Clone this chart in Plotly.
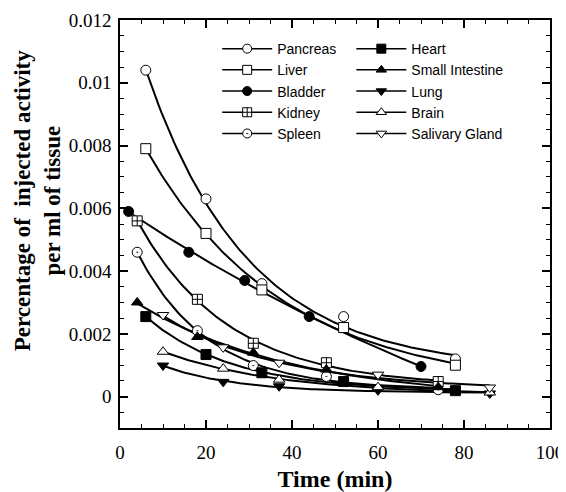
import numpy as np
import plotly.graph_objects as go

# ---- data ----
series_names = ["Pancreas", "Liver", "Bladder", "Kidney", "Spleen",
                "Heart", "Small Intestine", "Lung", "Brain", "Salivary Gland"]

pancreas_x = [6, 20, 33, 52, 78]
pancreas_y = [0.0104, 0.0063, 0.0036, 0.00255, 0.0012]
liver_x = [6, 20, 33, 52, 78]
liver_y = [0.0079, 0.0052, 0.0034, 0.0022, 0.0010]
bladder_x = [2, 16, 29, 44, 70]
bladder_y = [0.0059, 0.0046, 0.0037, 0.00255, 0.00096]
kidney_x = [4, 18, 31, 48, 74]
kidney_y = [0.0056, 0.0031, 0.0017, 0.00108, 0.00048]
spleen_x = [4, 18, 31, 48, 74]
spleen_y = [0.0046, 0.0021, 0.00099, 0.00064, 0.00022]
heart_x = [6, 20, 33, 52, 78]
heart_y = [0.00255, 0.00134, 0.00076, 0.00048, 0.00019]
small_int_x = [4, 18, 31, 48, 74]
small_int_y = [0.0030, 0.0019, 0.0014, 0.00086, 0.0003]
lung_x = [10, 24, 37, 60, 86]
lung_y = [0.00099, 0.00047, 0.00033, 0.0002, 0.0001]
brain_x = [10, 24, 37, 60, 86]
brain_y = [0.00143, 0.00089, 0.00054, 0.0003, 0.00013]
salivary_x = [10, 24, 37, 60, 86]
salivary_y = [0.0026, 0.00157, 0.00108, 0.0007, 0.00029]

xs = [pancreas_x, liver_x, bladder_x, kidney_x, spleen_x,
      heart_x, small_int_x, lung_x, brain_x, salivary_x]
ys = [pancreas_y, liver_y, bladder_y, kidney_y, spleen_y,
      heart_y, small_int_y, lung_y, brain_y, salivary_y]

ytick_vals = [0, 0.002, 0.004, 0.006, 0.008, 0.01, 0.012]
ytick_text = ["0", "0.002", "0.004", "0.006", "0.008", "0.01", "0.012"]
xtick_vals = [0, 20, 40, 60, 80, 100]

# ---- styles ----
symbols = ["circle", "square", "circle", "square-cross", "circle-dot",
           "square", "triangle-up", "triangle-down", "triangle-up", "triangle-down"]
fills = ["white", "white", "black", "white", "white",
         "black", "black", "black", "white", "white"]
sizes = [10, 10, 10, 10, 10, 10, 10, 10, 10, 10]


def exp_fit(x, y):
    x = np.asarray(x, float)
    y = np.asarray(y, float)
    best = None
    for b in np.linspace(0.005, 0.2, 800):
        A = np.column_stack([np.exp(-b * x), np.ones_like(x)])
        coef, *_ = np.linalg.lstsq(A, y, rcond=None)
        sse = float(np.sum((A @ coef - y) ** 2))
        if best is None or sse < best[0]:
            best = (sse, b, coef)
    _, b, (a, c) = best
    xf = np.linspace(x.min(), x.max(), 120)
    return xf, a * np.exp(-b * xf) + c


fig = go.Figure()

# fitted curves
for x, y in zip(xs, ys):
    xf, yf = exp_fit(x, y)
    fig.add_trace(go.Scatter(x=xf, y=yf, mode="lines",
                             line=dict(color="black", width=2),
                             showlegend=False, hoverinfo="skip"))

# data markers
for name, x, y, s, f, sz in zip(series_names, xs, ys, symbols, fills, sizes):
    fig.add_trace(go.Scatter(x=x, y=y, mode="markers", name=name,
                             marker=dict(symbol=s, color=f, size=sz,
                                         line=dict(color="black", width=1)),
                             showlegend=False))

# legend entries (two columns)
for i, (name, s, f, sz) in enumerate(zip(series_names, symbols, fills, sizes)):
    fig.add_trace(go.Scatter(x=[None], y=[None], mode="lines+markers", name=name,
                             line=dict(color="black", width=1.5),
                             marker=dict(symbol=s, color=f, size=sz - 1,
                                         line=dict(color="black", width=1)),
                             legend="legend" if i < 5 else "legend2"))

axis_common = dict(showline=True, linecolor="black", linewidth=1.5, mirror="ticks",
                   ticks="inside", ticklen=8, tickcolor="black", tickwidth=1.5,
                   showgrid=False, zeroline=False, automargin=False,
                   ticklabeloverflow="allow",
                   tickfont=dict(family="Liberation Serif", size=19, color="black"))

legend_font = dict(family="Liberation Sans", size=14, color="black")

fig.update_layout(
    template="none",
    width=566, height=484,
    margin=dict(l=112, r=24, t=12, b=64),
    paper_bgcolor="white", plot_bgcolor="white",
    xaxis=dict(range=[0, 100], tickvals=xtick_vals, ticklabelstandoff=6,
               minor=dict(ticks="inside", dtick=5, ticklen=4, tickcolor="black", tickwidth=1),
               title=dict(text="<b>Time (min)</b>", standoff=24,
                          font=dict(family="Liberation Serif", size=24, color="black")),
               **axis_common),
    yaxis=dict(range=[-0.001, 0.012], tickvals=ytick_vals, ticktext=ytick_text,
               ticklabelstandoff=3,
               minor=dict(ticks="inside", dtick=0.0005, tick0=0, ticklen=4,
                          tickcolor="black", tickwidth=1),
               **axis_common),
    legend=dict(x=0.226, y=0.968, xanchor="left", yanchor="top", bgcolor="rgba(0,0,0,0)",
                font=legend_font, itemwidth=50, tracegroupgap=0),
    legend2=dict(x=0.538, y=0.968, xanchor="left", yanchor="top", bgcolor="rgba(0,0,0,0)",
                 font=legend_font, itemwidth=50, tracegroupgap=0),
    annotations=[dict(text="<b>Percentage of  injected activity<br>per ml of tissue</b>",
                      xref="paper", yref="paper", x=-0.19, y=0.559,
                      xanchor="center", yanchor="middle", textangle=-90, showarrow=False,
                      font=dict(family="Liberation Serif", size=23, color="black"))],
)

fig.write_html("out.html")
